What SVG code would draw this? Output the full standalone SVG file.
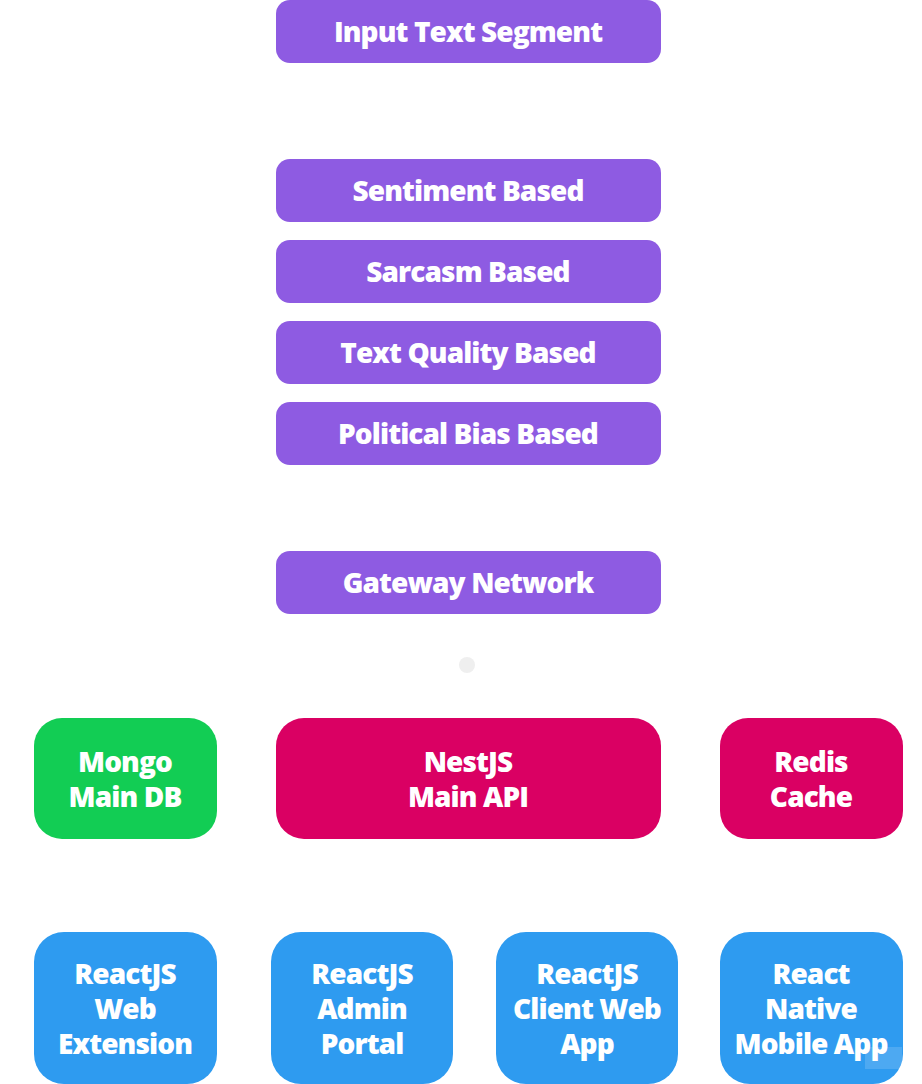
<svg xmlns="http://www.w3.org/2000/svg" width="922" height="1084" viewBox="0 0 922 1084">
<style>
.t{font-family:"Open Sans","Liberation Sans",sans-serif;font-weight:800;font-size:28px;letter-spacing:-0.9px;fill:#ffffff;text-anchor:middle;dominant-baseline:central}
.p{fill:#8E5BE2}
.r{fill:#DA0063}
.g{fill:#12CD54}
.b{fill:#2E9BF0}
</style>
<rect width="922" height="1084" fill="#ffffff"/>
<g id="connectors">
<circle cx="467" cy="665" r="8" fill="#EFEFEF"/>
</g>
<g id="input"><rect class="p" x="276" y="0" width="385" height="63" rx="14"/><text class="t" x="468" y="31">Input Text Segment</text></g>
<g id="sentiment"><rect class="p" x="276" y="159" width="385" height="63" rx="14"/><text class="t" x="468" y="190">Sentiment Based</text></g>
<g id="sarcasm"><rect class="p" x="276" y="240" width="385" height="63" rx="14"/><text class="t" x="468" y="271">Sarcasm Based</text></g>
<g id="quality"><rect class="p" x="276" y="321" width="385" height="63" rx="14"/><text class="t" x="468" y="352">Text Quality Based</text></g>
<g id="political"><rect class="p" x="276" y="402" width="385" height="63" rx="14"/><text class="t" x="468" y="433">Political Bias Based</text></g>
<g id="gateway"><rect class="p" x="276" y="551" width="385" height="63" rx="14"/><text class="t" x="468" y="582">Gateway Network</text></g>
<g id="mongo"><rect class="g" x="34" y="718" width="183" height="121" rx="28"/><text class="t" x="125" y="761">Mongo</text><text class="t" x="125" y="796">Main DB</text></g>
<g id="nest"><rect class="r" x="276" y="718" width="385" height="121" rx="28"/><text class="t" x="468" y="761">NestJS</text><text class="t" x="468" y="796">Main API</text></g>
<g id="redis"><rect class="r" x="720" y="718" width="183" height="121" rx="28"/><text class="t" x="811" y="761">Redis</text><text class="t" x="811" y="796">Cache</text></g>
<g id="ext"><rect class="b" x="34" y="932" width="183" height="152" rx="30"/><text class="t" x="125" y="973">ReactJS</text><text class="t" x="125" y="1008">Web</text><text class="t" x="125" y="1043">Extension</text></g>
<g id="admin"><rect class="b" x="271" y="932" width="182" height="152" rx="30"/><text class="t" x="362" y="973">ReactJS</text><text class="t" x="362" y="1008">Admin</text><text class="t" x="362" y="1043">Portal</text></g>
<g id="client"><rect class="b" x="496" y="932" width="182" height="152" rx="30"/><text class="t" x="587" y="973">ReactJS</text><text class="t" x="587" y="1008">Client Web</text><text class="t" x="587" y="1043">App</text></g>
<g id="mobile"><rect class="b" x="720" y="932" width="183" height="152" rx="30"/><text class="t" x="811" y="973">React</text><text class="t" x="811" y="1008">Native</text><text class="t" x="811" y="1043">Mobile App</text></g>
<g id="watermark"><rect x="865" y="1047" width="37" height="22" fill="#ffffff" fill-opacity="0.15"/></g>
</svg>
